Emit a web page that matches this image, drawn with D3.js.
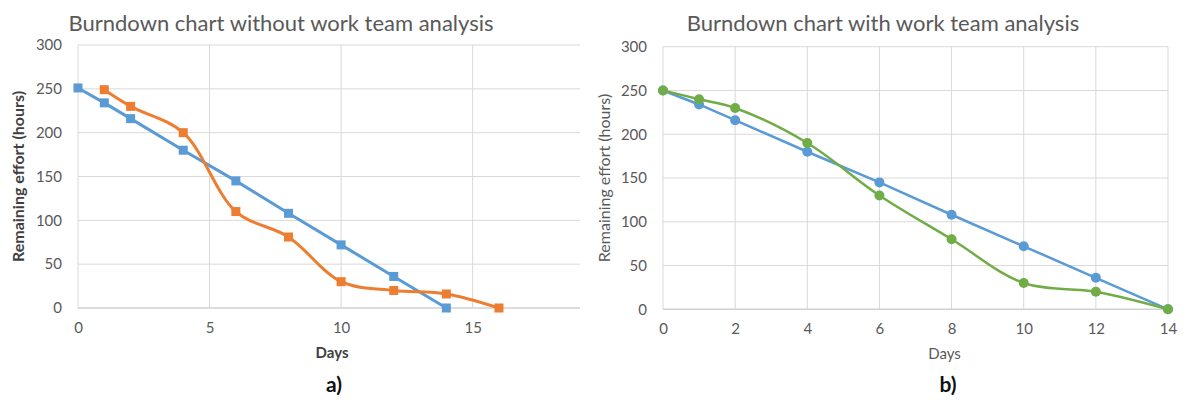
<!DOCTYPE html>
<html>
<head>
<meta charset="utf-8">
<script src="https://cdn.jsdelivr.net/npm/d3@7"></script>
<style>
  html, body { margin: 0; padding: 0; background: #ffffff; }
  svg { display: block; }
  text { font-family: Lato, "Open Sans", sans-serif; }
</style>
</head>
<body>
<svg id="chart" width="1190" height="403"></svg>
<script>
// ---------- data ----------
const titleA = "Burndown chart without work team analysis";
const titleB = "Burndown chart with work team analysis";
const xLabel = "Days";
const yLabel = "Remaining effort (hours)";
const captionA = "a)";
const captionB = "b)";

const idealDaysA = [0, 1, 2, 4, 6, 8, 10, 12, 14];
const idealValuesA = [251, 234, 216, 180, 145, 108, 72, 36, 0];
const actualDaysA = [1, 2, 4, 6, 8, 10, 12, 14, 16];
const actualValuesA = [249, 230, 200, 110, 81, 30, 20, 16, 0];

const idealDaysB = [0, 1, 2, 4, 6, 8, 10, 12, 14];
const idealValuesB = [250, 234, 216, 180, 145, 108, 72, 36, 0];
const actualDaysB = [0, 1, 2, 4, 6, 8, 10, 12, 14];
const actualValuesB = [250, 240, 230, 190, 130, 80, 30, 20, 0];

const xTicksA = [0, 5, 10, 15];
const xTicksB = [0, 2, 4, 6, 8, 10, 12, 14];
const yTicks = [0, 50, 100, 150, 200, 250, 300];

// ---------- drawing ----------
const svg = d3.select("#chart");
const BLUE = "#5b9bd5", ORANGE = "#ed7d31", GREEN = "#70ad47";
const GRID = "#d9d9d9", TICK_TXT = "#595959";

function drawPanel(cfg) {
  const g = svg.append("g");
  const x = d3.scaleLinear().domain(cfg.xDomain).range([cfg.left, cfg.right]);
  const y = d3.scaleLinear().domain([0, 300]).range([cfg.bottom, cfg.top]);

  // horizontal gridlines
  g.append("g").selectAll("line").data(yTicks.filter(v => v > 0)).join("line")
    .attr("x1", cfg.left).attr("x2", cfg.right)
    .attr("y1", d => y(d)).attr("y2", d => y(d))
    .attr("stroke", GRID).attr("stroke-width", 1);
  // vertical gridlines
  g.append("g").selectAll("line").data(cfg.xTicks).join("line")
    .attr("x1", d => x(d)).attr("x2", d => x(d))
    .attr("y1", cfg.top).attr("y2", cfg.bottom)
    .attr("stroke", GRID).attr("stroke-width", 1);
  // baseline
  g.append("line")
    .attr("x1", cfg.left).attr("x2", cfg.right)
    .attr("y1", y(0)).attr("y2", y(0))
    .attr("stroke", "#d0d0d0").attr("stroke-width", 1.5);

  // y axis labels
  const yAxis = d3.axisLeft(y).tickValues(yTicks).tickSize(0).tickPadding(cfg.yPad);
  const ya = g.append("g").attr("transform", `translate(${cfg.left},0)`).call(yAxis);
  ya.select(".domain").remove();
  ya.selectAll("text").attr("fill", TICK_TXT).attr("font-size", 15).attr("font-family", "Lato, sans-serif");

  // x axis labels
  const xAxis = d3.axisBottom(x).tickValues(cfg.xTicks).tickSize(0).tickPadding(14).tickFormat(d3.format("d"));
  const xa = g.append("g").attr("transform", `translate(0,${cfg.bottom})`).call(xAxis);
  xa.select(".domain").remove();
  xa.selectAll("text").attr("fill", TICK_TXT).attr("font-size", 15).attr("font-family", "Lato, sans-serif");

  // lines
  const lineStraight = d3.line().x(d => x(d[0])).y(d => y(d[1]));
  const lineSmooth = d3.line().x(d => x(d[0])).y(d => y(d[1])).curve(d3.curveCatmullRom.alpha(0.5));

  const ideal = d3.zip(cfg.idealDays, cfg.idealValues);
  const actual = d3.zip(cfg.actualDays, cfg.actualValues);

  g.append("path").datum(ideal).attr("d", lineStraight)
    .attr("fill", "none").attr("stroke", BLUE).attr("stroke-width", cfg.lw);
  g.append("path").datum(actual).attr("d", lineSmooth)
    .attr("fill", "none").attr("stroke", cfg.actualColor).attr("stroke-width", cfg.lw);

  function markers(data, color) {
    if (cfg.marker === "square") {
      g.append("g").selectAll("rect").data(data).join("rect")
        .attr("x", d => x(d[0]) - 4.5).attr("y", d => y(d[1]) - 4.5)
        .attr("width", 9).attr("height", 9).attr("fill", color);
    } else {
      g.append("g").selectAll("circle").data(data).join("circle")
        .attr("cx", d => x(d[0])).attr("cy", d => y(d[1])).attr("r", 5)
        .attr("fill", color);
    }
  }
  markers(ideal, BLUE);
  markers(actual, cfg.actualColor);

  // title
  g.append("text").attr("x", cfg.titleX).attr("y", 31)
    .attr("text-anchor", "middle").attr("font-size", 22).attr("fill", "#595959")
    .text(cfg.title);

  // axis titles
  g.append("text").attr("x", (cfg.left + cfg.right) / 2 + cfg.daysDx).attr("y", cfg.bottom + 50)
    .attr("text-anchor", "middle").attr("font-size", 15)
    .attr("font-weight", cfg.bold ? 700 : 400)
    .attr("fill", cfg.bold ? "#404040" : "#595959").text(xLabel);
  g.append("text")
    .attr("transform", `translate(${cfg.yTitleX},${(cfg.top + cfg.bottom) / 2}) rotate(-90)`)
    .attr("text-anchor", "middle").attr("font-size", 16)
    .attr("font-weight", cfg.bold ? 700 : 400)
    .attr("fill", cfg.bold ? "#404040" : "#595959").text(yLabel);

  // caption
  g.append("text").attr("x", cfg.captionX).attr("y", 392)
    .attr("text-anchor", "middle").attr("font-size", 21).attr("font-weight", 700)
    .attr("fill", "#111").text(cfg.caption);
}

drawPanel({
  left: 78, right: 580, top: 45, bottom: 308,
  xDomain: [0, 19.08], xTicks: xTicksA,
  idealDays: idealDaysA, idealValues: idealValuesA,
  actualDays: actualDaysA, actualValues: actualValuesA,
  actualColor: ORANGE, marker: "square", lw: 3,
  title: titleA, titleX: 281, caption: captionA, captionX: 334,
  yTitleX: 24, yPad: 16, bold: true, daysDx: 3
});

drawPanel({
  left: 663, right: 1168, top: 46.7, bottom: 309.3,
  xDomain: [0, 14], xTicks: xTicksB,
  idealDays: idealDaysB, idealValues: idealValuesB,
  actualDays: actualDaysB, actualValues: actualValuesB,
  actualColor: GREEN, marker: "circle", lw: 2.5,
  title: titleB, titleX: 883, caption: captionB, captionX: 948,
  yTitleX: 610, yPad: 16, bold: false, daysDx: 29
});
</script>
</body>
</html>
